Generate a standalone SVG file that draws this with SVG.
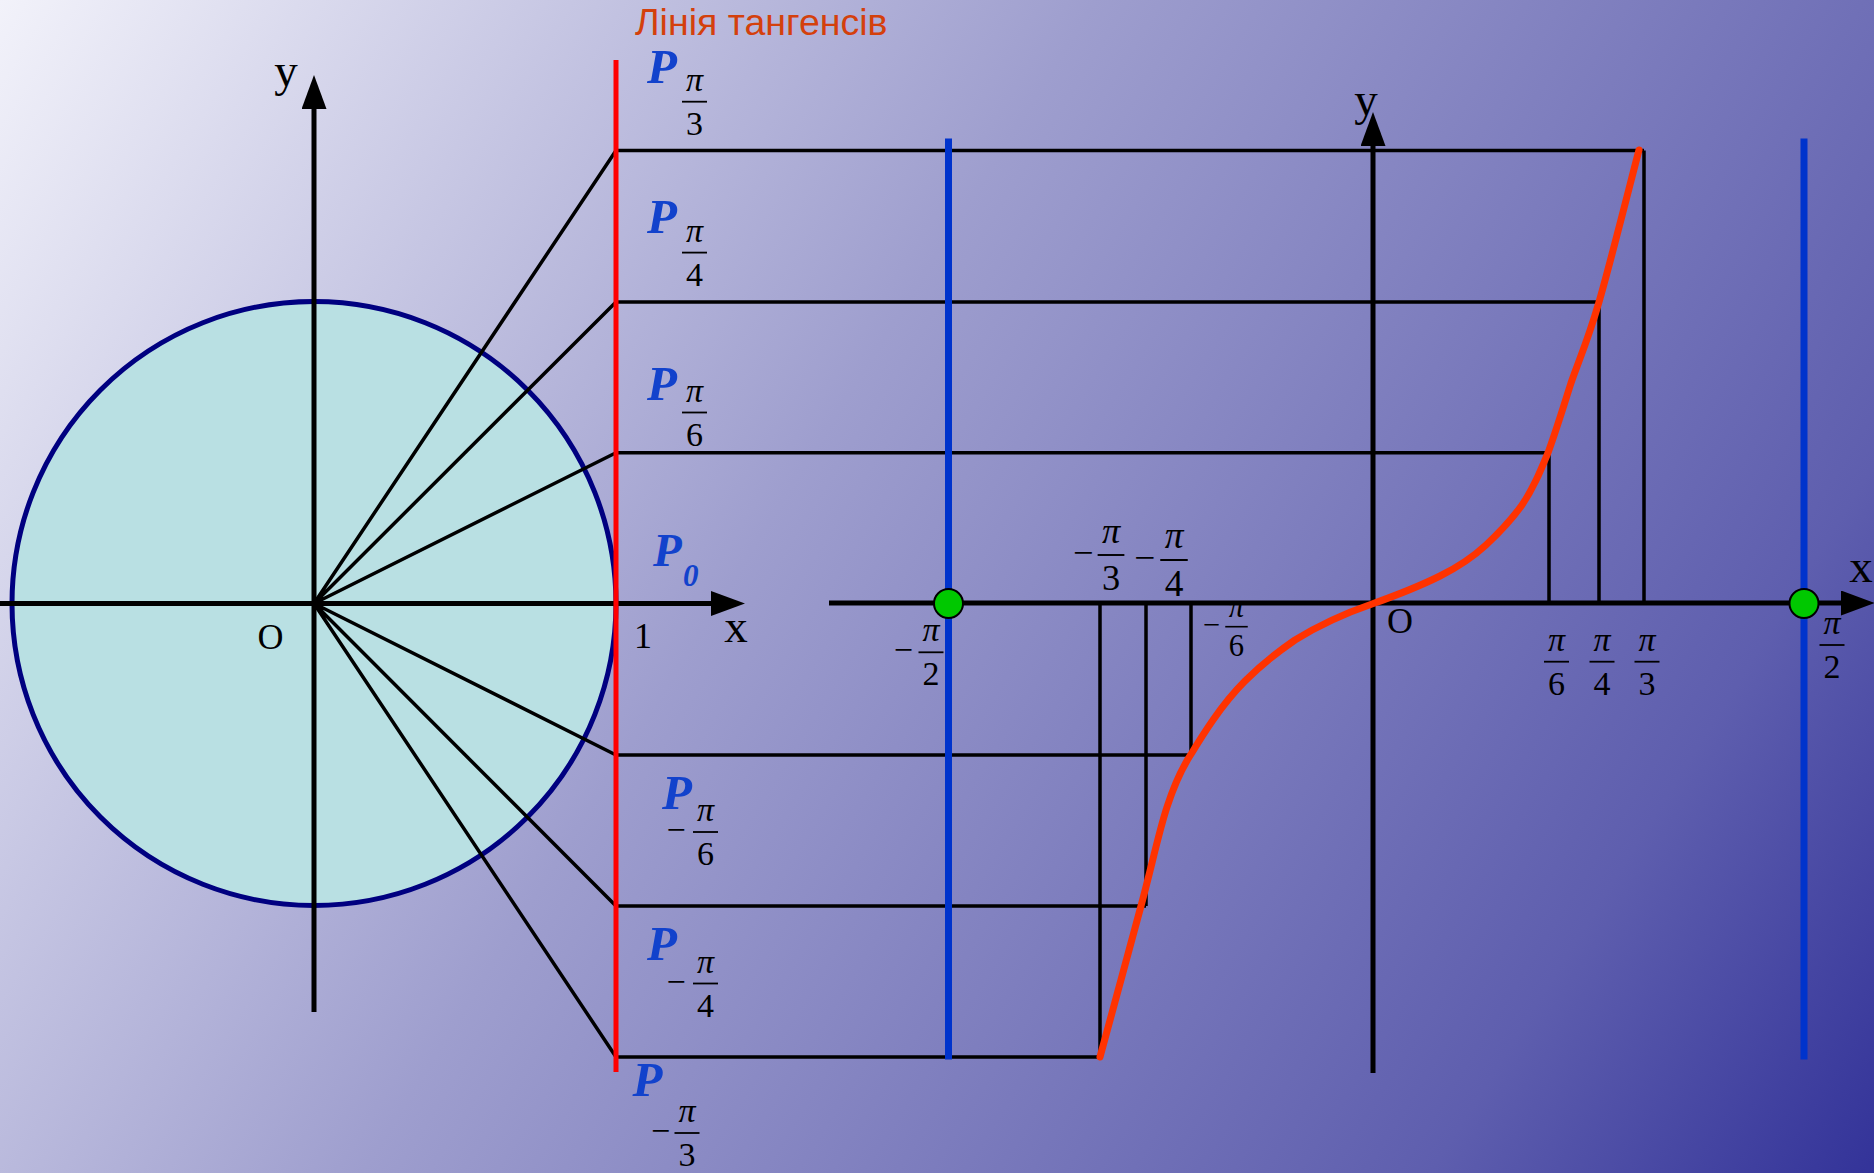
<svg xmlns="http://www.w3.org/2000/svg" width="1874" height="1173" viewBox="0 0 1874 1173">
<defs>
<linearGradient id="bg" gradientUnits="userSpaceOnUse" x1="0" y1="0" x2="1874" y2="1173">
<stop offset="0" stop-color="#F2F2FA"/>
<stop offset="0.42" stop-color="#9E9ECE"/>
<stop offset="0.83" stop-color="#5E5EAE"/>
<stop offset="1" stop-color="#333399"/>
</linearGradient>
<marker id="arr" viewBox="0 0 34 25" refX="0" refY="12.5" markerWidth="34" markerHeight="25" markerUnits="userSpaceOnUse" orient="auto">
<path d="M0,0 L34,12.5 L0,25 Z" fill="#000"/>
</marker>
<style>
text{font-family:"Liberation Serif","Times New Roman",serif;fill:#000}
.lbl{font-size:47px;text-anchor:middle}
.num{font-size:36px;text-anchor:middle}
.P{font-size:49px;font-weight:bold;font-style:italic;fill:#1242CC}
.fr text{font-size:34px;text-anchor:middle}
.fr .pi{font-style:italic}
.bar{stroke:#000;stroke-width:1.8}
.axis{stroke:#000;stroke-width:5;fill:none}
.ln{stroke:#000;stroke-width:3.5;fill:none}
.drop{stroke:#000;stroke-width:3.5;fill:none}
.asym{stroke:#0033CC;stroke-width:7}
.dot{fill:#00C800;stroke:#000;stroke-width:2}
</style>
</defs>
<rect width="1874" height="1173" fill="url(#bg)"/>
<text x="635" y="35" style="font-family:'Liberation Sans',Arial,sans-serif;font-size:37.5px;fill:#D4400C">Лінія тангенсів</text>

<g id="unit-circle">
<circle cx="314" cy="603.5" r="302" fill="#B9E0E3" stroke="#000080" stroke-width="5"/>
</g>

<g id="left-axes">
<line class="axis" x1="0" y1="603.5" x2="711" y2="603.5" marker-end="url(#arr)"/>
<line class="axis" x1="314" y1="1012" x2="314" y2="109" marker-end="url(#arr)"/>
<text class="lbl" x="286" y="86">y</text>
<text class="num" x="270.5" y="649">O</text>
<text class="num" x="643" y="648">1</text>
<text class="lbl" x="736" y="642">x</text>
</g>

<g id="connectors">
<path class="ln" d="M314,603.5 L616,150.5 M314,603.5 L616,302 M314,603.5 L616,452.7 M314,603.5 L616,755 M314,603.5 L616,906 M314,603.5 L616,1057"/>
<path class="ln" d="M616,150.5 H1644 M616,302 H1599 M616,452.7 H1551 M616,755 H1191 M616,906 H1146 M616,1057 H1100"/>
<path class="drop" d="M1644,150.5 V603 M1599,302 V603 M1549,452.7 V603 M1191,603 V755 M1146,603 V906 M1100,603 V1057"/>
</g>

<g id="tangent-line">
<line x1="616" y1="60" x2="616" y2="1072" stroke="#FF0000" stroke-width="5"/>
</g>

<g id="P-labels">
<text class="P" x="647" y="83.3">P</text>
<text class="P" x="647" y="233">P</text>
<text class="P" x="647" y="400">P</text>
<text class="P" x="653" y="566" style="font-size:47px">P</text>
<text class="P" x="683" y="585.5" style="font-size:31px">0</text>
<text class="P" x="662" y="808.8">P</text>
<text class="P" x="647" y="960">P</text>
<text class="P" x="632.5" y="1096">P</text>
</g>

<g id="fractions" class="fr">
<g transform="translate(694.5,101.7)"><text class="pi" y="-11">π</text><line class="bar" x1="-12.5" y1="0" x2="12.5" y2="0"/><text y="33">3</text></g>
<g transform="translate(694.5,252.6)"><text class="pi" y="-11">π</text><line class="bar" x1="-12.5" y1="0" x2="12.5" y2="0"/><text y="33">4</text></g>
<g transform="translate(694.5,412.5)"><text class="pi" y="-11">π</text><line class="bar" x1="-12.5" y1="0" x2="12.5" y2="0"/><text y="33">6</text></g>
<g transform="translate(705.5,832)"><text x="-29.5" y="9">−</text><text class="pi" y="-11">π</text><line class="bar" x1="-12.5" y1="0" x2="12.5" y2="0"/><text y="33">6</text></g>
<g transform="translate(705.5,983.5)"><text x="-29.5" y="9">−</text><text class="pi" y="-11">π</text><line class="bar" x1="-12.5" y1="0" x2="12.5" y2="0"/><text y="33">4</text></g>
<g transform="translate(687,1133)"><text x="-26.5" y="9">−</text><text class="pi" y="-11">π</text><line class="bar" x1="-12.5" y1="0" x2="12.5" y2="0"/><text y="33">3</text></g>
<g transform="translate(931,652.3)"><text x="-27.7" y="9">−</text><text class="pi" y="-11">π</text><line class="bar" x1="-12.5" y1="0" x2="12.5" y2="0"/><text y="33">2</text></g>
<g transform="translate(1832,645)"><text class="pi" y="-11">π</text><line class="bar" x1="-12.5" y1="0" x2="12.5" y2="0"/><text y="33">2</text></g>
<g transform="translate(1556.5,661.7)"><text class="pi" y="-11">π</text><line class="bar" x1="-12.5" y1="0" x2="12.5" y2="0"/><text y="33">6</text></g>
<g transform="translate(1602,661.7)"><text class="pi" y="-11">π</text><line class="bar" x1="-12.5" y1="0" x2="12.5" y2="0"/><text y="33">4</text></g>
<g transform="translate(1647,661.7)"><text class="pi" y="-11">π</text><line class="bar" x1="-12.5" y1="0" x2="12.5" y2="0"/><text y="33">3</text></g>
<g transform="translate(1111,555) scale(1.07)"><text x="-26" y="9">−</text><text class="pi" y="-11">π</text><line class="bar" x1="-12.5" y1="0" x2="12.5" y2="0"/><text y="33">3</text></g>
<g transform="translate(1174,560) scale(1.1)"><text x="-26.5" y="9">−</text><text class="pi" y="-11">π</text><line class="bar" x1="-12.5" y1="0" x2="12.5" y2="0"/><text y="33">4</text></g>
<g transform="translate(1236.5,626.7) scale(0.9)"><text x="-28" y="9">−</text><text class="pi" y="-11">π</text><line class="bar" x1="-12.5" y1="0" x2="12.5" y2="0"/><text y="33">6</text></g>
</g>

<g id="asymptotes">
<line class="asym" x1="948.5" y1="138.5" x2="948.5" y2="1059.6"/>
<line class="asym" x1="1804" y1="138.5" x2="1804" y2="1059.6"/>
</g>

<g id="right-axes">
<line class="axis" x1="829" y1="603" x2="1841" y2="603" marker-end="url(#arr)"/>
<line class="axis" x1="1373" y1="1073" x2="1373" y2="146" marker-end="url(#arr)"/>
<text class="lbl" x="1366" y="115">y</text>
<text class="num" x="1400" y="633">O</text>
<text class="lbl" x="1861" y="582">x</text>
</g>

<g id="tan-curve">
<path d="M1100,1057 C1106.8,1031.8 1129.8,947.7 1141,906 C1152.2,864.3 1158.7,832.2 1167,807 C1175.3,781.8 1182,768 1190.7,754.7 C1199,741 1206,730 1213,720 C1222,707 1232,694 1245,681 C1258,668 1276,653 1295,640 C1316,627 1343,614 1372,604 C1400,594 1420,586 1440,576 C1458,567 1472,558 1486,545 C1501,531 1512,519 1522,505 C1533,489 1540,472 1548,452.7 C1556,431 1563,408 1571,383 C1579.8,357.9 1587.7,340.8 1599,302 C1610.3,263.2 1632.3,175.3 1639,150" fill="none" stroke="#FF3300" stroke-width="7" stroke-linecap="round" stroke-linejoin="round"/>
</g>

<g id="points">
<circle class="dot" cx="948.5" cy="603.5" r="14.5"/>
<circle class="dot" cx="1804" cy="603.5" r="14.5"/>
</g>
</svg>
